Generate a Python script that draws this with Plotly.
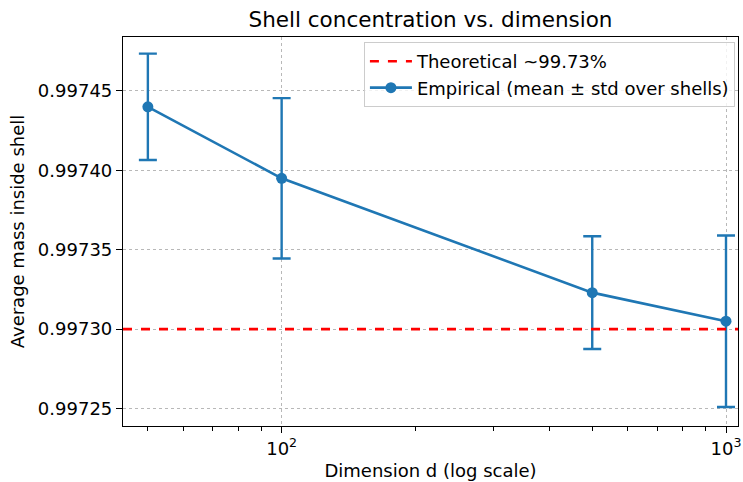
import plotly.graph_objects as go

dims = [50, 100, 500, 1000]
mean_mass = [0.997440, 0.997395, 0.997323, 0.997305]
std_mass = [0.0000335, 0.0000505, 0.0000355, 0.0000540]
theoretical = 0.9973
x_major = [100, 1000]
x_major_text = ["10<sup>2</sup>", "10<sup>3</sup>"]
x_minor = [50, 60, 70, 80, 90, 200, 300, 400, 500, 600, 700, 800, 900]
y_ticks = [0.99725, 0.99730, 0.99735, 0.99740, 0.99745]

blue = "#1f77b4"
fig = go.Figure()
fig.add_trace(go.Scatter(
    x=dims, y=mean_mass, mode="lines+markers",
    name="Empirical (mean ± std over shells)",
    line=dict(color=blue, width=2.6),
    marker=dict(color=blue, size=11),
    error_y=dict(type="data", array=std_mass, visible=True, color=blue, thickness=2.4, width=9),
    legendrank=2,
))
fig.add_shape(type="line", xref="paper", x0=0, x1=1, yref="y", y0=theoretical, y1=theoretical,
              line=dict(color="red", width=2.6, dash="dash"),
              showlegend=True, name="Theoretical ~99.73%", legendrank=1)

axis_common = dict(showline=True, linecolor="black", linewidth=1.2, mirror=True,
                   ticks="outside", ticklen=6, tickcolor="black", tickwidth=1.2,
                   showgrid=True, gridcolor="#b8b8b8", griddash="dot", gridwidth=1,
                   zeroline=False, tickfont=dict(size=18, color="black"),
                   ticklabeloverflow="allow")

fig.update_layout(
    width=743, height=482,
    margin=dict(l=123, r=2, t=37, b=56),
    paper_bgcolor="white", plot_bgcolor="white",
    font=dict(family="DejaVu Sans", color="black"),
    title=dict(text="Shell concentration vs. dimension", x=0.5, xref="paper",
               y=1 - 19 / 482, yanchor="middle", font=dict(size=21.5)),
    xaxis=dict(type="log", range=[1.643, 3.027], tickmode="array", tickvals=x_major,
               ticktext=x_major_text,
               title=dict(text="Dimension d (log scale)", font=dict(size=18), standoff=6),
               minor=dict(tickmode="array", tickvals=x_minor, ticks="outside", ticklen=3.5,
                          tickcolor="black", tickwidth=1, showgrid=False),
               **axis_common),
    yaxis=dict(range=[0.997239, 0.997484], tickmode="array", tickvals=y_ticks,
               tickformat=".5f",
               title=dict(text="Average mass inside shell", font=dict(size=18), standoff=8),
               **axis_common),
    legend=dict(x=0.995, y=0.987, xanchor="right", yanchor="top", itemwidth=42,
                bgcolor="rgba(255,255,255,0.8)", bordercolor="#cccccc", borderwidth=1,
                font=dict(size=18)),
    showlegend=True,
)

fig.write_html("out.html", config={"displayModeBar": False},
               post_script="document.body.style.margin='0';")
